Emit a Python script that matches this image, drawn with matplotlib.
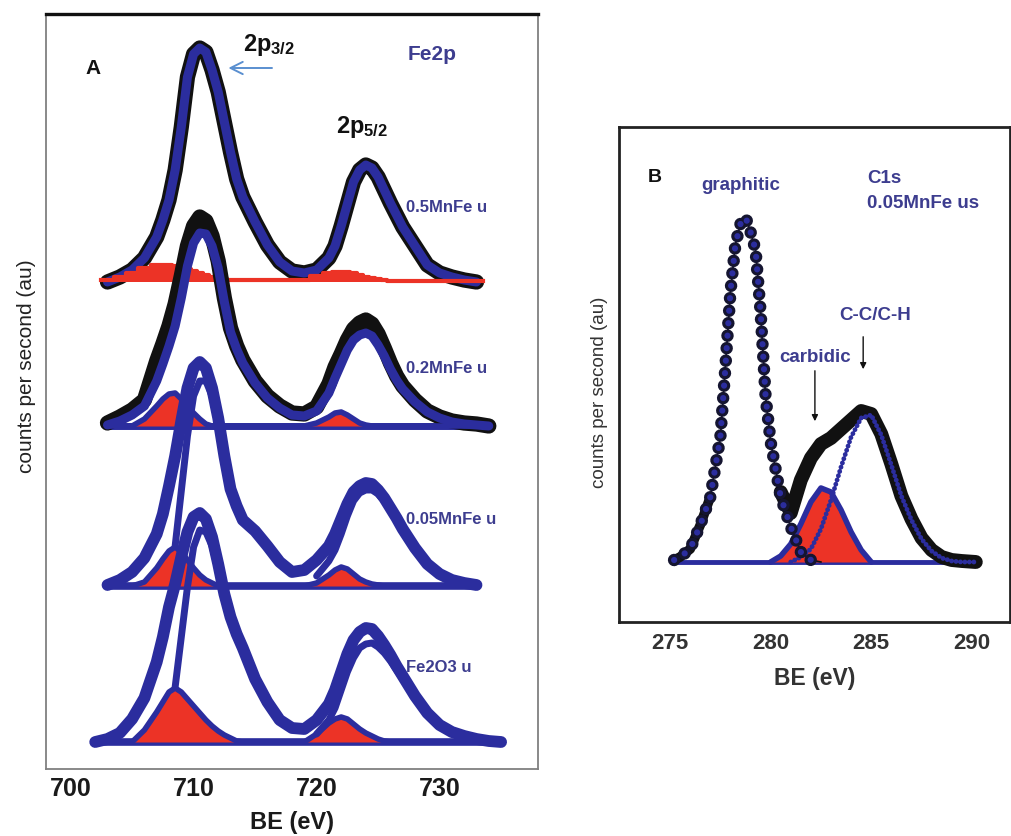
import numpy as np
import matplotlib
matplotlib.use("Agg")
import matplotlib.pyplot as plt

plt.rcParams["font.family"] = ["Liberation Sans", "DejaVu Sans"]
plt.rcParams["mathtext.fontset"] = "custom"
plt.rcParams["mathtext.rm"] = "Liberation Sans"
plt.rcParams["mathtext.bf"] = "Liberation Sans:bold"
plt.rcParams["lines.scale_dashes"] = False

nan = np.nan

NAVY = "#3d3d8f"
BLUE = "#2b2d9e"
RED = "#ec3326"
BLACK = "#111111"

# ---------------- Fe2p region (panel A) ----------------
be_fe = [702, 703, 704, 705, 706, 707, 707.5, 708, 708.5, 709, 709.5, 710, 710.5,
         711, 711.5, 712, 712.5, 713, 713.5, 714, 715, 716, 717, 718, 719, 720,
         721, 721.5, 722, 722.5, 723, 723.5, 724, 724.5, 725, 725.5, 726, 726.5,
         727, 728, 729, 730, 731, 732, 733, 734, 735]

fe_labels = ["0.5MnFe u", "0.2MnFe u", "0.05MnFe u", "Fe2O3 u"]
fe_offsets = [487, 343, 183, 27]

# 0.5MnFe u: measured counts and stepped background
data_05 = [nan, 0, 5, 12, 24, 45, 62, 82, 112, 155, 205, 228, 234, 230, 212, 190, 160,
           130, 103, 85, 60, 37, 20, 11, 9, 12, 24, 36, 56, 78, 100, 112, 117, 114,
           105, 92, 79, 67, 55, 36, 17, 9, 5, 2, 0, nan, nan]
bkg_05 = [nan, 2, 5, 9, 14, 17, 17, 17, 16, 15, 13, 11, 9, 7, 5, 4, 3, 2, 2, 2, 2, 2,
          2, 2, 2, 6, 9, 10, 10, 10, 9, 7, 5, 4, 3, 2, 1, 1, 1, 1, 1, 1, 1, 1, 1, nan, nan]

# 0.2MnFe u
data_02 = [nan, 3, 9, 16, 26, 65, 82, 100, 122, 150, 180, 200, 209, 205, 190, 165, 128,
           98, 80, 66, 45, 30, 20, 13, 12, 19, 42, 59, 72, 86, 97, 103, 106, 102, 92,
           78, 63, 50, 40, 26, 15, 9, 5, 3, 2, 0, nan]
fit_02 = [nan, 1, 5, 11, 20, 45, 62, 80, 100, 128, 160, 183, 193, 192, 180, 158, 124,
          94, 77, 63, 43, 28, 18, 11, 10, 15, 33, 48, 62, 76, 86, 91, 93, 90, 81, 70,
          57, 46, 37, 24, 14, 8, 4, 2, 1, 0, nan]
fe2_02 = [nan, 0, 0, 0, 7, 20, 27, 32, 33, 27, 20, 13, 7, 2, 0, 0, 0, 0, 0, 0, 0, 0,
          0, 0, 0, 3, 9, 13, 14, 11, 7, 3, 1, 0, 0, 0, 0, 0, 0, 0, 0, 0, 0, 0, 0, 0, nan]

# 0.05MnFe u
fit_005 = [nan, 1, 6, 14, 28, 52, 72, 100, 130, 165, 198, 218, 224, 218, 198, 168, 130,
           97, 80, 66, 55, 40, 24, 14, 16, 26, 40, 52, 67, 82, 94, 100, 103, 102, 96,
           88, 78, 68, 57, 38, 22, 12, 6, 3, 1, nan, nan]
fe3_005 = [nan, nan, nan, nan, nan, nan, nan, nan, 40, 95, 150, 190, 205, 205, 190, 163,
           128, 96, nan, nan, nan, nan, nan, nan, nan, 10, 25, 36, 52, 70, 85, 93, 96,
           96, 92, 85, 76, 66, 55, nan, nan, nan, nan, nan, nan, nan, nan]
fe2_005 = [nan, 0, 0, 0, 4, 18, 27, 35, 39, 34, 26, 18, 11, 6, 3, 0, 0, 0, 0, 0, 0, 0,
           0, 0, 0, 3, 11, 16, 19, 17, 12, 7, 4, 2, 1, 0, 0, 0, 0, 0, 0, 0, 0, 0, 0,
           nan, nan]

# Fe2O3 u
fit_fe2o3 = [0, 3, 9, 23, 44, 80, 105, 135, 158, 185, 210, 225, 229, 223, 205, 178,
             148, 125, 108, 94, 63, 40, 22, 14, 13, 22, 38, 52, 70, 88, 102, 110, 114,
             113, 106, 97, 87, 76, 66, 46, 29, 17, 10, 6, 3, 1, 0]
fe3_fe2o3 = [nan, nan, nan, nan, nan, nan, nan, nan, 55, 105, 155, 195, 212, 210, 196,
             172, 145, 122, nan, nan, nan, nan, nan, nan, nan, 8, 22, 34, 52, 70, 84,
             94, 98, 99, 95, 89, 81, 72, 63, nan, nan, nan, nan, nan, nan, nan, nan]
fe2_fe2o3 = [0, 0, 0, 0, 12, 30, 40, 50, 54, 50, 43, 36, 29, 22, 16, 11, 7, 4, 1, 0, 0,
             0, 0, 0, 0, 8, 19, 23, 25, 23, 18, 13, 9, 6, 3, 1, 0, 0, 0, 0, 0, 0, 0, 0,
             0, 0, 0]

# ---------------- C1s region (panel B) ----------------
be_c = [275.2, 275.5, 276, 276.5, 277, 277.5, 277.75, 278, 278.25, 278.5, 278.75, 279,
        279.25, 279.5, 279.75, 280, 280.5, 281, 281.5, 282, 282.5, 283, 283.5, 284,
        284.5, 285, 285.5, 286, 286.5, 287, 287.5, 288, 288.5, 289, 289.5, 290.2]
c1s_offset = 60
c1s_data = [2, 5, 13, 37, 65, 125, 195, 270, 318, 338, 345, 330, 312, 250, 165, 125, 70,
            49, 82, 104, 118, 124, 133, 142, 151, 148, 128, 98, 66, 43, 24, 12, 5, 2, 1, 0]
c1s_graphitic = [2, 5, 13, 37, 65, 125, 195, 270, 318, 338, 345, 330, 312, 250, 165,
                 120, 65, 35, 10, 2, 0, nan, nan, nan, nan, nan, nan, nan, nan, nan,
                 nan, nan, nan, nan, nan, nan]
c1s_cc = [nan] * 17 + [0, 5, 13, 33, 62, 95, 125, 144, 147, 127, 97, 66, 42, 23, 11, 4,
                       1, 0, 0]
c1s_carbidic = [nan] * 15 + [0, 6, 18, 38, 60, 74, 70, 52, 30, 12, 0] + [nan] * 10

fig = plt.figure(figsize=(10.11, 8.36), dpi=100)

# ---- panel A ----
ax = fig.add_axes([46 / 1011, 1 - 769 / 836, 492 / 1011, 755 / 836])
x = np.array(be_fe, dtype=float)


def valid_span(vals):
    v = np.array(vals, dtype=float)
    ok = ~np.isnan(v)
    return x[ok][0], x[ok][-1]


def red_component(vals, off, z):
    v = np.array(vals, dtype=float)
    ax.fill_between(x, off, off + v, where=~np.isnan(v), color=RED, lw=0, zorder=z)
    ax.plot(x, off + v, color=BLUE, lw=4, solid_capstyle="round", zorder=z + 0.1)


# 0.5MnFe u
off = fe_offsets[0]
bk = np.array(bkg_05, dtype=float)
ax.fill_between(x, off, off + bk, step="mid", color=RED, lw=0, zorder=3)
ax.step(x, off + bk, where="mid", color=RED, lw=3, zorder=3)
ax.plot(x, off + np.array(data_05, dtype=float), color=BLACK, lw=11,
        solid_capstyle="round", zorder=2)
ax.plot(x, off + np.array(data_05, dtype=float), color=BLUE, lw=6.5,
        solid_capstyle="round", zorder=2.5)

# 0.2MnFe u
off = fe_offsets[1]
x0, x1 = valid_span(fit_02)
ax.plot([x0, x1], [off, off], color=BLUE, lw=5, solid_capstyle="round", zorder=5)
ax.plot(x, off + np.array(data_02, dtype=float), color=BLACK, lw=11,
        solid_capstyle="round", zorder=5.2)
ax.plot(x, off + np.array(fit_02, dtype=float), color=BLUE, lw=6.5,
        solid_capstyle="round", zorder=5.4)
red_component(fe2_02, off, 5.6)

# 0.05MnFe u and Fe2O3 u
for off, fit, fe3, fe2, z in [(fe_offsets[2], fit_005, fe3_005, fe2_005, 8),
                              (fe_offsets[3], fit_fe2o3, fe3_fe2o3, fe2_fe2o3, 11)]:
    x0, x1 = valid_span(fit)
    ax.plot([x0, x1], [off, off], color=BLUE, lw=5.5, solid_capstyle="round", zorder=z)
    red_component(fe2, off, z + 0.2)
    ax.plot(x, off + np.array(fit, dtype=float), color=BLUE, lw=8.5,
            solid_capstyle="round", zorder=z + 0.5)
    ax.plot(x, off + np.array(fe3, dtype=float), color=BLUE, lw=5,
            solid_capstyle="round", zorder=z + 0.6)

for lbl, off, ly in zip(fe_labels, fe_offsets, [75, 58, 66, 75]):
    ax.text(727.3, off + ly, lbl, color=NAVY, fontsize=12, fontweight="bold",
            ha="left", va="center", zorder=20)

ax.text(701.8, 701, "A", fontsize=15, fontweight="bold", color=BLACK,
        ha="center", va="center")
ax.text(714.0, 724, r"$\mathbf{2p_{3/2}}$", fontsize=17, color=BLACK,
        ha="left", va="center")
ax.text(721.6, 642, r"$\mathbf{2p_{5/2}}$", fontsize=17, color=BLACK,
        ha="left", va="center")
ax.text(729.4, 714, "Fe2p", fontsize=15, fontweight="bold", color=NAVY,
        ha="center", va="center")
ax.annotate("", xy=(712.6, 701), xytext=(716.6, 701),
            arrowprops=dict(arrowstyle="->", color="#5a8fd0", lw=1.4, mutation_scale=22))

ax.set_xlim(698, 738)
ax.set_ylim(0, 755)
ax.set_yticks([])
ax.set_xticks([700, 710, 720, 730])
ax.tick_params(axis="x", length=0, pad=6, labelsize=18, labelcolor="#1a1a1a")
for t in ax.get_xticklabels():
    t.set_fontweight("bold")
ax.set_xlabel("BE (eV)", fontsize=17, fontweight="bold", color="#1a1a1a", labelpad=7)
for side in ["left", "right", "bottom"]:
    ax.spines[side].set_color("#808080")
    ax.spines[side].set_linewidth(1.3)
ax.spines["top"].set_color(BLACK)
ax.spines["top"].set_linewidth(2.4)
fig.text(27 / 1011, 1 - 366 / 836, "counts per second (au)", rotation=90,
         fontsize=15, color="#222222", ha="center", va="center")

# ---- panel B ----
bx = fig.add_axes([619 / 1011, 1 - 622 / 836, 391 / 1011, 495 / 836])
xc = np.array(be_c, dtype=float)
c0 = c1s_offset
bx.plot([xc[0], xc[-1]], [c0, c0], color=BLUE, lw=3.5, zorder=2)
car = np.array(c1s_carbidic, dtype=float)
bx.fill_between(xc, c0, c0 + car, where=~np.isnan(car), color=RED, lw=0, zorder=3)
bx.plot(xc, c0 + car, color=BLUE, lw=4, solid_capstyle="round", zorder=3.2)
bx.plot(xc[16:], c0 + np.array(c1s_data[16:], dtype=float), color=BLACK, lw=10,
        solid_capstyle="round", zorder=4)
bx.plot(xc[:5], c0 + np.array(c1s_data[:5], dtype=float), color=BLACK, lw=7,
        solid_capstyle="round", zorder=4)
bx.plot(xc, c0 + np.array(c1s_cc, dtype=float), color=BLUE, lw=3.5,
        linestyle=(0, (0.01, 3.2)), dash_capstyle="round", zorder=5)
gr = c0 + np.array(c1s_graphitic, dtype=float)
bx.plot(xc, gr, color=BLACK, lw=1.2, zorder=5.5)
bx.plot(xc, gr, color="#151530", lw=9, linestyle=(0, (0.01, 9)),
        dash_capstyle="round", zorder=6)
bx.plot(xc, gr, color=BLUE, lw=4.5, linestyle=(0, (0.01, 9)),
        dash_capstyle="round", zorder=6.5)

bx.text(274.25, 445, "B", fontsize=14, fontweight="bold", color=BLACK,
        ha="center", va="center")
bx.text(278.5, 437, "graphitic", fontsize=13.5, fontweight="bold", color=NAVY,
        ha="center", va="center")
bx.text(284.8, 444, "C1s", fontsize=13.5, fontweight="bold", color=NAVY,
        ha="left", va="center")
bx.text(284.8, 419, "0.05MnFe us", fontsize=13.5, fontweight="bold", color=NAVY,
        ha="left", va="center")
bx.text(285.2, 307, "C-C/C-H", fontsize=13.5, fontweight="bold", color=NAVY,
        ha="center", va="center")
bx.text(282.2, 265, "carbidic", fontsize=13.5, fontweight="bold", color=NAVY,
        ha="center", va="center")
bx.annotate("", xy=(284.6, 250), xytext=(284.6, 288),
            arrowprops=dict(arrowstyle="-|>", color=BLACK, lw=1, mutation_scale=9))
bx.annotate("", xy=(282.2, 198), xytext=(282.2, 254),
            arrowprops=dict(arrowstyle="-|>", color=BLACK, lw=1, mutation_scale=9))

bx.set_xlim(272.46, 291.9)
bx.set_ylim(0, 495)
bx.set_yticks([])
bx.set_xticks([275, 280, 285, 290])
bx.tick_params(axis="x", length=0, pad=8, labelsize=16, labelcolor="#333333")
for t in bx.get_xticklabels():
    t.set_fontweight("bold")
bx.set_xlabel("BE (eV)", fontsize=16.5, fontweight="bold", color="#333333", labelpad=9)
for side in bx.spines.values():
    side.set_color("#222222")
    side.set_linewidth(2)
fig.text(600 / 1011, 1 - 392 / 836, "counts per second (au)", rotation=90,
         fontsize=13.5, color="#333333", ha="center", va="center")

fig.savefig("out.png", dpi=100)
